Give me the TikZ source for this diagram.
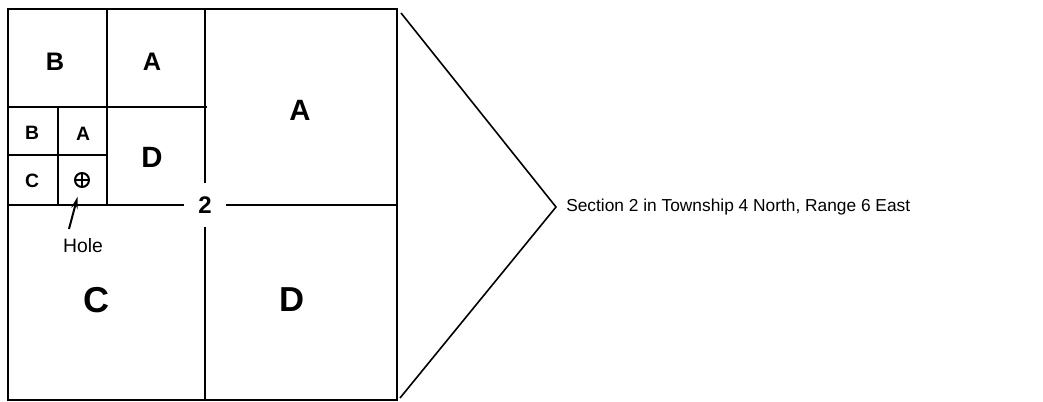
\documentclass[tikz,border=0pt]{standalone}
\usepackage{fontspec}
\setmainfont{Liberation Sans}
\usetikzlibrary{arrows.meta}

\begin{document}
\begin{tikzpicture}[x=0.75pt,y=-0.75pt,>={Stealth[length=9pt,width=5pt]},
  lot/.style={inner sep=0pt,font=\fontsize{#1}{#1}\selectfont\bfseries},
  note/.style={inner sep=0pt,font=\fontsize{#1}{#1}\selectfont},
  bound/.style={line width=1.7pt},
  split/.style={line width=1.4pt}]
  \useasboundingbox (0,0) rectangle (1043,402);
  % section outline and quarter lines
  \draw[bound] (8,9) rectangle (397,400);
  \node[lot=18,minimum width=31.5pt,minimum height=32pt] (sec) at (205,205) {2};
  \draw[split] (205,9) -- (sec);
  \draw[split] (sec) -- (205,400);
  \draw[split] (8,205) -- (sec);
  \draw[split] (sec) -- (397,205);
  \draw[split] (107,9) -- (107,205);
  \draw[split] (8,107) -- (207,107);
  \draw[split] (58,107) -- (58,205);
  \draw[split] (8,155) -- (107,155);
  % quarter letters
  \node[lot=19] (nwB) at (55,62) {B};
  \node[lot=19] (nwA) at (152,62) {A};
  \node[lot=22] (neA) at (300,110) {A};
  \node[lot=22] (nwD) at (152,157) {D};
  \node[lot=14.5] (smB) at (32,133) {B};
  \node[lot=14.5] (smA) at (83,134) {A};
  \node[lot=14.5] (smC) at (32,181) {C};
  \node[lot=27] (swC) at (96,300) {C};
  \node[lot=26] (seD) at (292,300) {D};
  % hole
  \node[draw,circle,line width=1.5pt,minimum size=10.5pt,inner sep=0pt] (holemark) at (82,180) {};
  \draw[line width=1.2pt] (holemark.north) -- (holemark.south) (holemark.west) -- (holemark.east);
  \node[note=14.5] (holelbl) at (83,246) {Hole};
  \coordinate (holetail) at (69,229);
  \draw[->,line width=1.5pt,shorten >=7pt] (holetail) -- (holemark);
  % bracket to caption
  \coordinate (chevtop) at (401,13);
  \coordinate (chevbot) at (400,398);
  \coordinate (tip) at (556,207);
  \draw[line width=1.2pt] (chevtop) -- (tip) -- (chevbot);
  \node[note=13,anchor=west] (caption) at (566,207) {Section 2 in Township 4 North, Range 6 East};
\end{tikzpicture}
\end{document}
